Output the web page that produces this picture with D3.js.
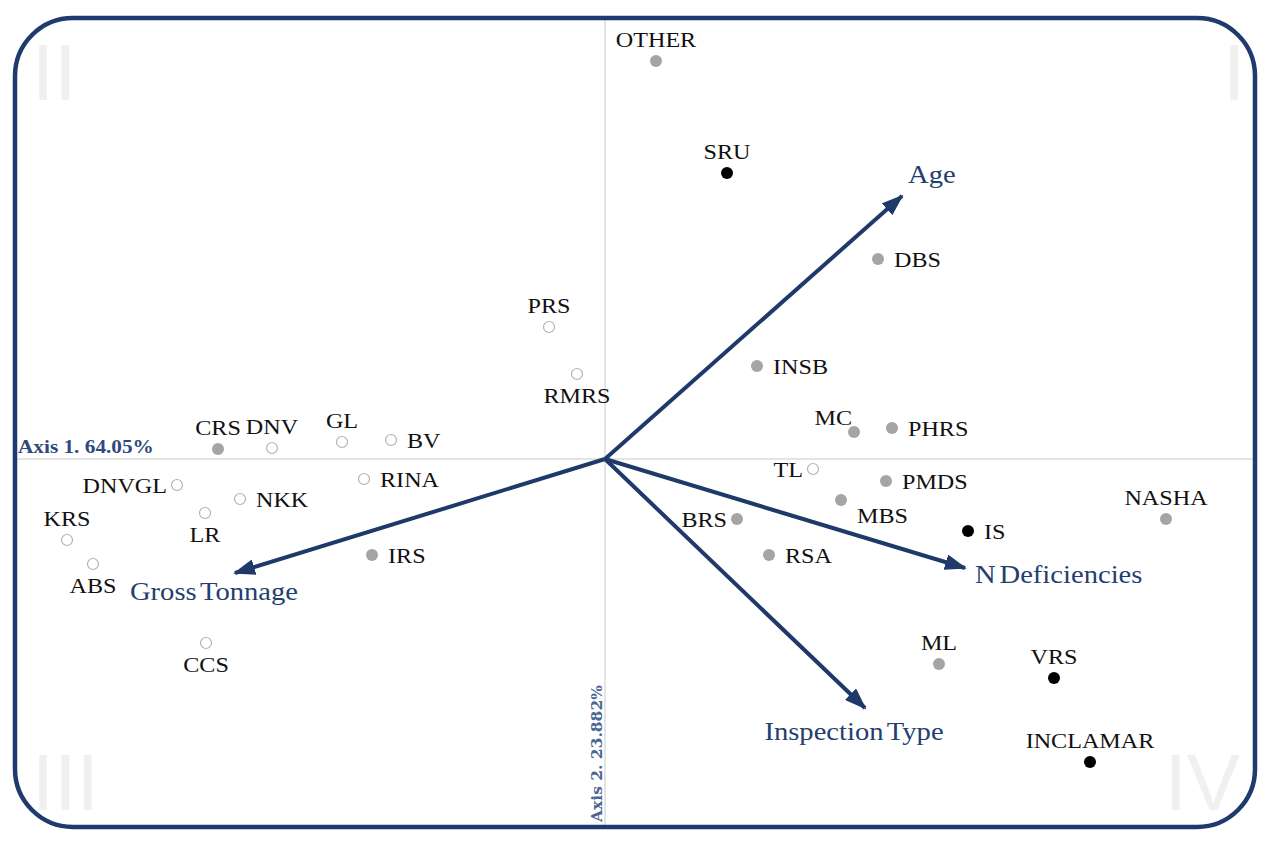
<!DOCTYPE html>
<html><head><meta charset="utf-8">
<script src="https://cdn.jsdelivr.net/npm/d3@7"></script>
<style>html,body{margin:0;padding:0;background:#fff;}svg{display:block;}</style>
</head><body>
<svg id="chart" width="1270" height="845"></svg>
<script>
// ---- data ----
const pointNames = ["OTHER","SRU","DBS","PRS","RMRS","INSB","MC","PHRS","TL","PMDS","MBS","BRS","RSA","IS","NASHA","ML","VRS","INCLAMAR","CRS","DNV","GL","BV","RINA","DNVGL","NKK","LR","KRS","ABS","IRS","CCS"];
const axis1Scores = [0.51,1.22,2.73,-0.56,-0.28,1.52,2.49,2.87,2.08,2.81,2.36,1.32,1.64,3.63,5.61,3.34,4.49,4.85,-3.87,-3.33,-2.63,-2.14,-2.41,-4.28,-3.65,-4.00,-5.38,-5.12,-2.33,-3.99];
const axis2Scores = [3.98,2.86,2.00,1.32,0.85,0.93,0.27,0.31,-0.10,-0.22,-0.41,-0.60,-0.96,-0.72,-0.60,-2.05,-2.19,-3.03,0.10,0.11,0.17,0.19,-0.20,-0.26,-0.40,-0.54,-0.81,-1.05,-0.96,-1.84];
const pointGroup = ["grey","black","grey","open","open","grey","grey","grey","open","grey","grey","grey","grey","black","grey","grey","black","black","grey","open","open","open","open","open","open","open","open","open","grey","open"];
const vectorNames = ["Age","Gross Tonnage","N Deficiencies","Inspection Type"];
const vectorAxis1 = [2.97,-3.70,3.60,2.60];
const vectorAxis2 = [2.63,-1.14,-1.09,-2.49];
const axis1Label = "Axis 1. 64.05%";
const axis2Label = "Axis 2. 23.882%";
const quadrantLabels = ["I","II","III","IV"];

// ---- layout (label placement codes) ----
const labelPlace = ["t","t","r","t","b","r","tl","r","l","r","br","l","r","r","t","t","t","t","t","t","t","r","r","l","r","b","t","b","r","b"];

const svg = d3.select("#chart");
const x = d3.scaleLinear().domain([-5.9, 6.5]).range([15, 1255]);
const y = d3.scaleLinear().domain([-3.68, 4.42]).range([827, 17]);
const navy = "#1f3a6a";

// quadrant numerals
const quadPos = {"I":[1223,100,"start"],"II":[32,100,"start"],"III":[32,810,"start"],"IV":[1240,810,"end"]};
svg.append("g").selectAll("text").data(quadrantLabels).join("text")
  .attr("x", d => quadPos[d][0]).attr("y", d => quadPos[d][1])
  .attr("text-anchor", d => quadPos[d][2])
  .attr("font-family","Liberation Sans, Arial, sans-serif")
  .attr("font-size", 80).attr("fill","#f0f0f0").text(d => d);

// axis lines
svg.append("line").attr("x1",17).attr("x2",1253).attr("y1",y(0)).attr("y2",y(0))
  .attr("stroke","#c9c9c9").attr("stroke-width",1);
svg.append("line").attr("y1",20).attr("y2",825).attr("x1",x(0)).attr("x2",x(0))
  .attr("stroke","#c9c9c9").attr("stroke-width",1);

// axis labels
svg.append("text").attr("transform",`translate(18,${y(0)-6}) scale(1.12,1)`)
  .attr("font-family","Liberation Serif, serif").attr("font-weight","bold")
  .attr("font-size",19).attr("fill","#2e4a7c").text(axis1Label);
svg.append("text").attr("transform",`translate(${x(0)-3},822) rotate(-90)`)
  .attr("font-family","DejaVu Serif, serif").attr("font-weight","bold")
  .attr("font-size",15.5).attr("fill","#4a6593").text(axis2Label);

// arrows
const defs = svg.append("defs");
defs.append("marker").attr("id","ah").attr("viewBox","0 0 11 8")
  .attr("refX",10).attr("refY",4).attr("markerWidth",5.5).attr("markerHeight",4)
  .attr("markerUnits","strokeWidth").attr("orient","auto")
  .append("path").attr("d","M0,0 L11,4 L0,8 Z").attr("fill",navy);

const vectors = vectorNames.map((n,i)=>({name:n,u:vectorAxis1[i],v:vectorAxis2[i]}));
svg.append("g").selectAll("line").data(vectors).join("line")
  .attr("x1",x(0)).attr("y1",y(0))
  .attr("x2",d=>x(d.u)).attr("y2",d=>y(d.v))
  .attr("stroke",navy).attr("stroke-width",4).attr("marker-end","url(#ah)");

const vecLabelOff = {"Age":[6,-13,"start"],"Gross Tonnage":[-21,27,"middle"],"N Deficiencies":[10,15,"start"],"Inspection Type":[-11,32,"middle"]};
svg.append("g").selectAll("text").data(vectors).join("text")
  .attr("transform",d=>`translate(${x(d.u)+vecLabelOff[d.name][0]},${y(d.v)+vecLabelOff[d.name][1]}) scale(1.1,1)`)
  .attr("text-anchor",d=>vecLabelOff[d.name][2])
  .attr("font-family","Liberation Serif, serif").attr("font-size",26)
  .attr("word-spacing",-3)
  .attr("fill","#243f6f").text(d=>d.name);

// points
const pts = pointNames.map((n,i)=>({name:n,u:axis1Scores[i],v:axis2Scores[i],g:pointGroup[i],p:labelPlace[i]}));
const fillOf = {grey:"#a5a5a5",black:"#000",open:"#fff"};
const strokeOf = {grey:"none",black:"none",open:"#b3b3b3"};
svg.append("g").selectAll("circle").data(pts).join("circle")
  .attr("cx",d=>x(d.u)).attr("cy",d=>y(d.v))
  .attr("r",d=>d.g==="open"?5.5:6)
  .attr("fill",d=>fillOf[d.g]).attr("stroke",d=>strokeOf[d.g]).attr("stroke-width",1.2);

const placeOff = {t:[0,-14,"middle"],b:[0,29,"middle"],r:[16,8,"start"],l:[-10,8,"end"],tl:[-2,-7,"end"],br:[16,23,"start"]};
svg.append("g").selectAll("text").data(pts).join("text")
  .attr("transform",d=>{const o=placeOff[d.p];return `translate(${x(d.u)+o[0]},${y(d.v)+o[1]}) scale(1.15,1)`;})
  .attr("text-anchor",d=>placeOff[d.p][2])
  .attr("font-family","Liberation Serif, serif").attr("font-size",21)
  .attr("fill","#111").text(d=>d.name);

// border
svg.append("rect").attr("x",15).attr("y",18).attr("width",1240).attr("height",809)
  .attr("rx",58).attr("ry",58).attr("fill","none").attr("stroke","#1f3b6d").attr("stroke-width",4.5);
</script>
</body></html>
